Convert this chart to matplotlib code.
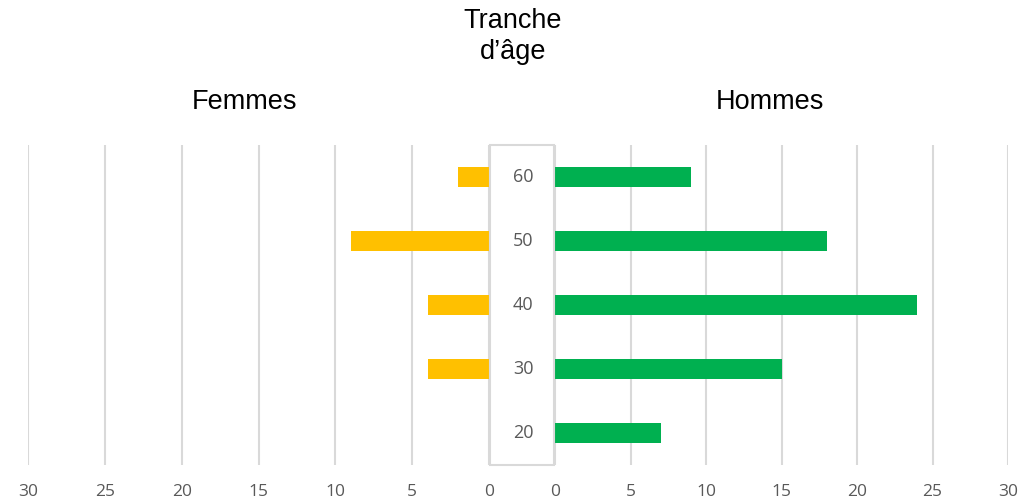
import matplotlib
matplotlib.use("Agg")
import matplotlib.pyplot as plt
from matplotlib.patches import Rectangle

ages = ["20", "30", "40", "50", "60"]
femmes = [0, 4, 4, 9, 2]
hommes = [7, 15, 24, 18, 9]
ticks = [0, 5, 10, 15, 20, 25, 30]

W, H = 1036, 503
fig = plt.figure(figsize=(W / 100, H / 100), dpi=100)
fig.patch.set_facecolor("white")

def fx(px):
    return px / W

def fy(py):
    return 1 - py / H

y0, y1 = 145, 465
axL = fig.add_axes([fx(28), fy(y1), fx(489) - fx(28), fy(y0) - fy(y1)])
axR = fig.add_axes([fx(555), fy(y1), fx(1008) - fx(555), fy(y0) - fy(y1)])

grid_c = "#d9d9d9"
lab_c = "#595959"
tick_font = "Open Sans"

ypos = list(range(len(ages)))
for ax, vals, col in [(axL, femmes, "#FFC000"), (axR, hommes, "#00B050")]:
    ax.set_xlim(0, 30)
    ax.set_ylim(-0.5, len(ages) - 0.5)
    ax.set_xticks(ticks)
    ax.set_xticklabels([str(t) for t in ticks], fontsize=12.5, color=lab_c, family=tick_font)
    ax.set_yticks([])
    for t in ticks:
        ax.axvline(t, color=grid_c, lw=1.5, zorder=0)
    ax.barh(ypos, vals, height=0.31, color=col, zorder=2)
    for s in ax.spines.values():
        s.set_visible(False)
    ax.tick_params(axis="x", length=0, pad=14)
    ax.set_facecolor("none")

axL.invert_xaxis()

# center box with age labels
box = Rectangle((fx(490), fy(y1)), fx(554) - fx(490), fy(y0) - fy(y1),
                transform=fig.transFigure, facecolor="white", edgecolor=grid_c, lw=1.5, zorder=5)
fig.patches.append(box)
cx = fx(523)
for i, a in enumerate(ages):
    yc = y1 - (i + 0.5) * (y1 - y0) / len(ages)
    fig.text(cx, fy(yc), a, ha="center", va="center", fontsize=13, color=lab_c, family=tick_font, zorder=6)

title_font = "Liberation Sans"
fig.text(fx(244), fy(102), "Femmes", ha="center", va="center", fontsize=19.5, family=title_font, color="black")
fig.text(fx(770), fy(102), "Hommes", ha="center", va="center", fontsize=19.5, family=title_font, color="black")
fig.text(fx(513), fy(37), "Tranche\nd\u2019âge", ha="center", va="center", fontsize=19.5, family=title_font,
         color="black", linespacing=1.25)

fig.savefig("out.png", dpi=100, facecolor="white")
